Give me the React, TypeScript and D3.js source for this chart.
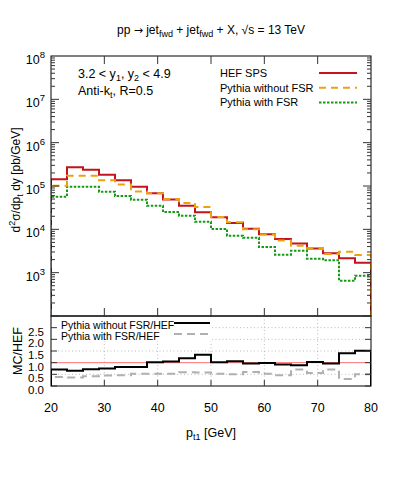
import React, { useRef, useEffect } from "react";
import * as d3 from "d3";

// bin edges in p_t1 [GeV]
const binEdges = [20, 23, 26, 29, 32, 35, 38, 41, 44, 47, 50, 53, 56, 59, 62, 65, 68, 71, 74, 77, 80];

// d2sigma/dpt dy [pb/GeV] per bin
const hefSps = [1.43e5, 2.7e5, 2.38e5, 1.82e5, 1.36e5, 9.6e4, 6.8e4, 4.9e4, 3.5e4, 2.47e4, 1.9e4, 1.4e4, 1.03e4, 7.7e3, 6.0e3, 4.7e3, 3.6e3, 2.8e3, 2.15e3, 1.7e3];
const pythiaNoFsr = [1.02e5, 1.73e5, 1.73e5, 1.36e5, 1.08e5, 7.5e4, 6.8e4, 5.0e4, 4.06e4, 3.28e4, 1.92e4, 1.45e4, 1.0e4, 7.6e3, 5.5e3, 4.2e3, 3.7e3, 2.7e3, 3.05e3, 2.56e3];
const pythiaFsr = [5.66e4, 9.6e4, 9.6e4, 7.4e4, 5.9e4, 4.83e4, 3.5e4, 2.5e4, 2.07e4, 1.5e4, 1.02e4, 7.1e3, 6.4e3, 3.9e3, 2.6e3, 3.2e3, 2.1e3, 1.93e3, 6.5e2, 8.5e2];

// MC/HEF ratios
const ratioNoFsr = [0.71, 0.65, 0.72, 0.75, 0.81, 0.81, 1.02, 1.05, 1.19, 1.34, 1.02, 1.06, 0.96, 0.99, 0.92, 0.89, 1.03, 0.96, 1.4, 1.51];
const ratioFsr = [0.39, 0.36, 0.42, 0.45, 0.46, 0.53, 0.53, 0.53, 0.59, 0.58, 0.53, 0.5, 0.6, 0.53, 0.46, 0.71, 0.56, 0.71, 0.3, 0.5];

const xTicks = [20, 30, 40, 50, 60, 70, 80];
const yDecades = [3, 4, 5, 6, 7, 8];
const ratioTicks = [0, 0.5, 1, 1.5, 2, 2.5];

const FONT = "'Liberation Sans', Arial, Helvetica, sans-serif";
const W = 399;
const H = 478;

export default function App() {
  const ref = useRef<SVGSVGElement | null>(null);

  useEffect(() => {
    const svg = d3.select(ref.current);
    svg.selectAll("*").remove();

    const left = 51, right = 371;
    const topY = 56, midY = 316, botY = 386;

    const x = d3.scaleLinear().domain([20, 80]).range([left, right]);
    const y = d3.scaleLog().domain([100, 1e8]).range([midY, topY]);
    const r = d3.scaleLinear().domain([0, 3]).range([botY, midY]);

    svg.append("rect").attr("width", W).attr("height", H).attr("fill", "#fff");

    const defs = svg.append("defs");
    defs.append("clipPath").attr("id", "clipTop")
      .append("rect").attr("x", left).attr("y", topY).attr("width", right - left).attr("height", midY - topY);
    defs.append("clipPath").attr("id", "clipBot")
      .append("rect").attr("x", left).attr("y", midY).attr("width", right - left).attr("height", botY - midY);

    // title
    const title = svg.append("text")
      .attr("x", 211).attr("y", 34)
      .attr("text-anchor", "middle")
      .attr("font-family", FONT).attr("font-size", 12);
    title.append("tspan").text("pp ");
    title.append("tspan").attr("font-family", "'DejaVu Sans', sans-serif").attr("font-size", 11).text("→");
    title.append("tspan").text(" jet");
    title.append("tspan").attr("font-size", 9).attr("dy", 3).text("fwd");
    title.append("tspan").attr("dy", -3).text(" + jet");
    title.append("tspan").attr("font-size", 9).attr("dy", 3).text("fwd");
    title.append("tspan").attr("dy", -3).text(" + X, √s = 13 TeV");

    // lower panel grid
    const grid = svg.append("g").attr("stroke", "#aaa").attr("stroke-width", 0.8).attr("stroke-dasharray", "1,2.5");
    [30, 40, 50, 60, 70].forEach((v) => {
      grid.append("line").attr("x1", x(v)).attr("x2", x(v)).attr("y1", midY).attr("y2", botY);
    });
    [0.5, 1.5, 2, 2.5].forEach((v) => {
      grid.append("line").attr("x1", left).attr("x2", right).attr("y1", r(v)).attr("y2", r(v));
    });

    // step path builder
    const stepPath = (vals: number[], ys: (v: number) => number, base: number) => {
      const pts: [number, number][] = [[binEdges[0], base]];
      vals.forEach((v, i) => pts.push([binEdges[i], v]));
      pts.push([binEdges[binEdges.length - 1], vals[vals.length - 1]]);
      pts.push([binEdges[binEdges.length - 1], base]);
      return d3.line<[number, number]>()
        .x((d) => x(d[0]))
        .y((d) => ys(d[1]))
        .curve(d3.curveStepAfter)(pts);
    };

    // upper histograms
    const top = svg.append("g").attr("clip-path", "url(#clipTop)");
    top.append("path").attr("d", stepPath(pythiaFsr, y, 100))
      .attr("fill", "none").attr("stroke", "#169a16").attr("stroke-width", 2).attr("stroke-dasharray", "2.5,1.5");
    top.append("path").attr("d", stepPath(hefSps, y, 100))
      .attr("fill", "none").attr("stroke", "#c3141b").attr("stroke-width", 2);
    top.append("path").attr("d", stepPath(pythiaNoFsr, y, 100))
      .attr("fill", "none").attr("stroke", "#eda20c").attr("stroke-width", 2).attr("stroke-dasharray", "7,5");

    // lower ratios
    const bot = svg.append("g").attr("clip-path", "url(#clipBot)");
    bot.append("line").attr("x1", left).attr("x2", right).attr("y1", r(1)).attr("y2", r(1))
      .attr("stroke", "#ff7070").attr("stroke-width", 1);
    bot.append("path").attr("d", stepPath(ratioFsr, r, 0))
      .attr("fill", "none").attr("stroke", "#b0b0b0").attr("stroke-width", 2).attr("stroke-dasharray", "8,5");
    bot.append("path").attr("d", stepPath(ratioNoFsr, r, 0))
      .attr("fill", "none").attr("stroke", "#000").attr("stroke-width", 2);

    // lower legend
    svg.append("rect").attr("x", left + 1).attr("y", midY + 1).attr("width", 160).attr("height", 24).attr("fill", "#fff");
    const lg2 = [
      { label: "Pythia without FSR/HEF", color: "#000", dash: null },
      { label: "Pythia with FSR/HEF", color: "#b0b0b0", dash: "8,5" },
    ];
    lg2.forEach((d, i) => {
      const yy = 325 + i * 11;
      svg.append("text").attr("x", 61).attr("y", yy + 4)
        .attr("font-family", FONT).attr("font-size", 10.5).text(d.label);
      svg.append("line").attr("x1", 174).attr("x2", 210).attr("y1", yy - 2).attr("y2", yy - 2)
        .attr("stroke", d.color).attr("stroke-width", 2).attr("stroke-dasharray", d.dash);
    });

    // frames
    svg.append("rect").attr("x", left).attr("y", topY).attr("width", right - left).attr("height", midY - topY)
      .attr("fill", "none").attr("stroke", "#000").attr("stroke-width", 1);
    svg.append("rect").attr("x", left).attr("y", midY).attr("width", right - left).attr("height", botY - midY)
      .attr("fill", "none").attr("stroke", "#000").attr("stroke-width", 1);

    const ticks = svg.append("g").attr("stroke", "#333").attr("stroke-width", 1);
    // x ticks
    [30, 40, 50, 60, 70].forEach((v) => {
      ticks.append("line").attr("x1", x(v)).attr("x2", x(v)).attr("y1", topY).attr("y2", topY + 8);
      ticks.append("line").attr("x1", x(v)).attr("x2", x(v)).attr("y1", midY).attr("y2", midY - 8);
      ticks.append("line").attr("x1", x(v)).attr("x2", x(v)).attr("y1", botY).attr("y2", botY - 6);
    });
    // log y ticks
    for (let e = 2; e < 8; e++) {
      for (let m = 1; m < 10; m++) {
        const v = m * Math.pow(10, e);
        const len = m === 1 ? 8 : 4;
        ticks.append("line").attr("x1", left).attr("x2", left + len).attr("y1", y(v)).attr("y2", y(v));
        ticks.append("line").attr("x1", right).attr("x2", right - len).attr("y1", y(v)).attr("y2", y(v));
      }
    }
    // ratio ticks
    ratioTicks.forEach((v) => {
      ticks.append("line").attr("x1", left).attr("x2", left + 6).attr("y1", r(v)).attr("y2", r(v));
      ticks.append("line").attr("x1", right).attr("x2", right - 6).attr("y1", r(v)).attr("y2", r(v));
    });

    // y tick labels (upper)
    yDecades.forEach((e) => {
      const t = svg.append("text").attr("x", 45).attr("y", y(Math.pow(10, e)) + 8)
        .attr("text-anchor", "end").attr("font-family", FONT).attr("font-size", 12.5);
      t.append("tspan").text("10");
      t.append("tspan").attr("dy", -6).attr("font-size", 9.5).text(String(e));
    });
    // ratio labels
    ratioTicks.forEach((v) => {
      svg.append("text").attr("x", 44).attr("y", r(v) + 8)
        .attr("text-anchor", "end").attr("font-family", FONT).attr("font-size", 11.5)
        .text(v.toFixed(1));
    });
    // x labels
    xTicks.forEach((v) => {
      svg.append("text").attr("x", x(v)).attr("y", 412)
        .attr("text-anchor", "middle").attr("font-family", FONT).attr("font-size", 12.5)
        .text(String(v));
    });
    const xl = svg.append("text").attr("x", 211).attr("y", 437)
      .attr("text-anchor", "middle").attr("font-family", FONT).attr("font-size", 12.5);
    xl.append("tspan").text("p");
    xl.append("tspan").attr("dy", 3).attr("font-size", 9).text("t1");
    xl.append("tspan").attr("dy", -3).text(" [GeV]");

    // y axis labels
    const yl = svg.append("text").attr("transform", "translate(20,180) rotate(-90)")
      .attr("text-anchor", "middle").attr("font-family", FONT).attr("font-size", 12);
    yl.append("tspan").text("d");
    yl.append("tspan").attr("dy", -5).attr("font-size", 9).text("2");
    yl.append("tspan").attr("dy", 5).text("σ/dp");
    yl.append("tspan").attr("dy", 3).attr("font-size", 9).text("t");
    yl.append("tspan").attr("dy", -3).text(" dy [pb/GeV]");

    svg.append("text").attr("transform", "translate(22,351) rotate(-90)")
      .attr("text-anchor", "middle").attr("font-family", FONT).attr("font-size", 12.5)
      .text("MC/HEF");

    // upper annotation
    const a1 = svg.append("text").attr("x", 78).attr("y", 78).attr("font-family", FONT).attr("font-size", 12.5);
    a1.append("tspan").text("3.2 < y");
    a1.append("tspan").attr("dy", 3).attr("font-size", 9).text("1");
    a1.append("tspan").attr("dy", -3).text(", y");
    a1.append("tspan").attr("dy", 3).attr("font-size", 9).text("2");
    a1.append("tspan").attr("dy", -3).text(" < 4.9");
    const a2 = svg.append("text").attr("x", 78).attr("y", 95).attr("font-family", FONT).attr("font-size", 12.5);
    a2.append("tspan").text("Anti-k");
    a2.append("tspan").attr("dy", 3).attr("font-size", 9).text("t");
    a2.append("tspan").attr("dy", -3).text(", R=0.5");

    // upper legend
    const lg1 = [
      { label: "HEF SPS", color: "#c3141b", dash: null },
      { label: "Pythia without FSR", color: "#eda20c", dash: "7,5" },
      { label: "Pythia with FSR", color: "#169a16", dash: "2.5,1.5" },
    ];
    lg1.forEach((d, i) => {
      const yy = 73 + i * 14.7;
      svg.append("text").attr("x", 220).attr("y", yy + 4)
        .attr("font-family", FONT).attr("font-size", 11).text(d.label);
      svg.append("line").attr("x1", 319).attr("x2", 357).attr("y1", yy).attr("y2", yy)
        .attr("stroke", d.color).attr("stroke-width", 2).attr("stroke-dasharray", d.dash);
    });
  }, []);

  return (
    <svg ref={ref} width={W} height={H} style={{ position: "absolute", left: 0, top: 0 }} />
  );
}
